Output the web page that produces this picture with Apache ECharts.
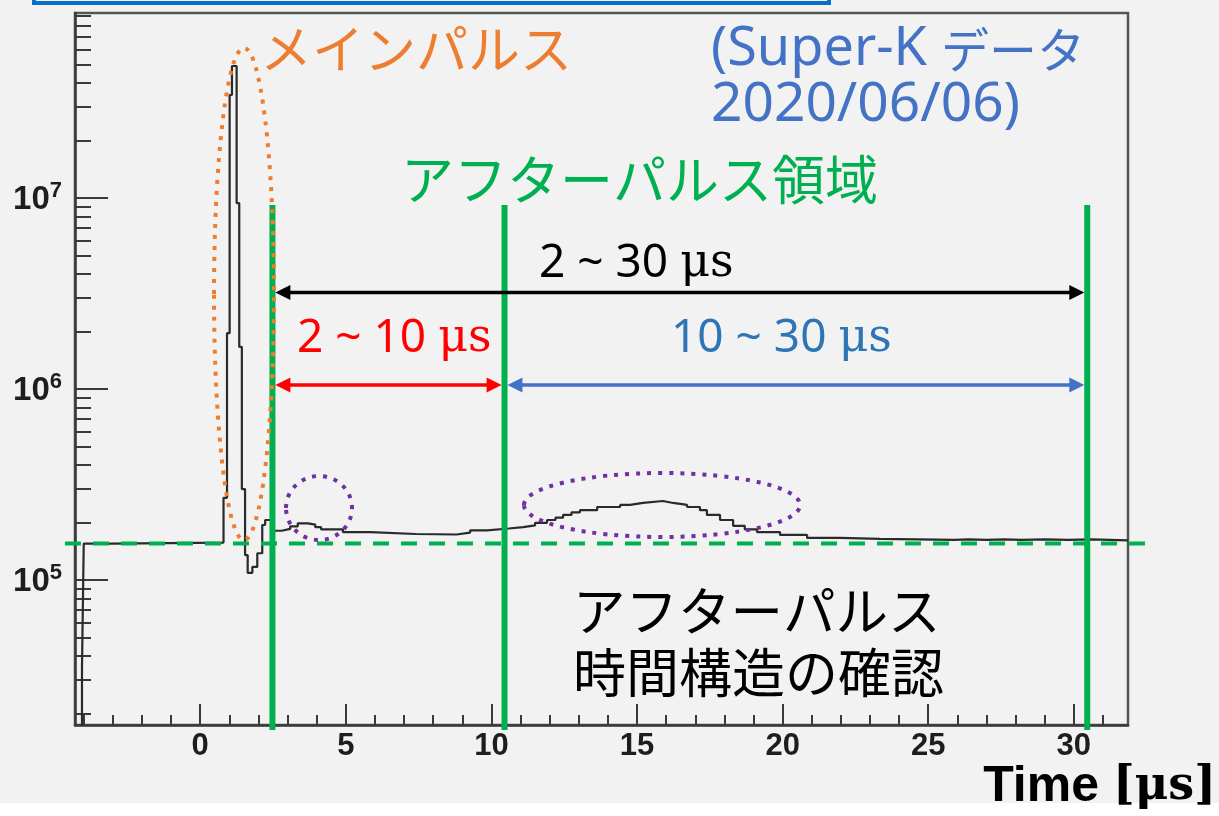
<!DOCTYPE html>
<html><head><meta charset="utf-8">
<script src="https://cdn.jsdelivr.net/npm/echarts@6/dist/echarts.min.js"></script>
<style>html,body{margin:0;padding:0;background:#f2f2f2;}#c{width:1219px;height:816px;}</style>
</head><body><div id="c"></div>
<script>
// ---- data ----
const binStart = [-4.30,-4.06,-4.00,-3.00,0.80,0.92,1.01,1.09,1.25,1.34,1.43,1.54,1.63,1.79,1.96,2.13,2.23,2.50,2.80,3.09,3.35,3.70,3.95,4.15,4.90,5.85,7.40,8.80,9.27,9.85,10.60,11.09,11.50,11.91,12.20,12.46,12.75,13.04,13.63,14.42,14.76,15.21,15.89,16.24,16.72,17.16,17.40,17.85,18.30,18.70,19.12,19.91,20.84,21.97,23.34,25.90,26.40,27.00,27.60,28.20,29.00,29.80,30.60];
const binValue = [1.2e4,3.5e4,1.55e5,1.57e5,2.69e5,1.96e6,3.46e7,4.91e7,9.4e6,1.66e6,2.99e5,1.35e5,1.09e5,1.17e5,1.38e5,1.94e5,2.06e5,1.81e5,1.85e5,1.91e5,1.98e5,1.95e5,1.89e5,1.84e5,1.78e5,1.74e5,1.73e5,1.77e5,1.82e5,1.86e5,1.89e5,1.93e5,1.99e5,2.06e5,2.12e5,2.19e5,2.26e5,2.32e5,2.41e5,2.47e5,2.53e5,2.59e5,2.53e5,2.47e5,2.41e5,2.32e5,2.19e5,2.06e5,1.92e5,1.84e5,1.78e5,1.72e5,1.66e5,1.64e5,1.62e5,1.63e5,1.62e5,1.63e5,1.62e5,1.63e5,1.62e5,1.63e5,1.61e5];
const histEnd = 31.86;
const xRange = [-4.3, 31.86];
const yRange = [1.74e4, 9.3e7];
const xMajorTicks = [0,5,10,15,20,25,30];
const xMinorTicks = [-4,-3,-2,-1,1,2,3,4,6,7,8,9,11,12,13,14,16,17,18,19,21,22,23,24,26,27,28,29,31];
const yMajorTicks = [1e5,1e6,1e7];
const yMinorTicks = [2e4,3e4,4e4,5e4,6e4,7e4,8e4,9e4,2e5,3e5,4e5,5e5,6e5,7e5,8e5,9e5,2e6,3e6,4e6,5e6,6e6,7e6,8e6,9e6,2e7,3e7,4e7,5e7,6e7,7e7,8e7,9e7];
const regionEdges = [2.48, 10.45, 30.46];   // μs
const regionTopValue = 9.2e6;
const baselineValue = 1.55e5;
const arrowFullLevel = 3.2e6;
const arrowSubLevel = 1.05e6;

// ---- chart ----
const chart = echarts.init(document.getElementById('c'), null, {width:1219, height:816});
const histData = binStart.map((t,i)=>[t, binValue[i]]);
histData.push([histEnd, binValue[binValue.length-1]]);

const AX = '#3a3a3a';
const labelFont = {fontFamily:'Liberation Sans', fontWeight:'bold', color:'#1e1e1e'};

chart.setOption({
  backgroundColor:'#f2f2f2',
  animation:false,
  grid:{left:75, top:13, right:91, bottom:91, show:true, borderColor:'#555', borderWidth:2.5, backgroundColor:'#f2f2f2'},
  xAxis:[{
    type:'value', min:xRange[0], max:xRange[1], splitNumber:7,
    splitLine:{show:false},
    axisLine:{show:true, onZero:false, lineStyle:{color:AX, width:2.5}},
    axisTick:{show:true, inside:true, length:21, customValues:xMajorTicks, lineStyle:{color:AX, width:2}},
    axisLabel:{show:true, customValues:xMajorTicks, margin:6, fontSize:31, ...labelFont}
  },{
    type:'value', min:xRange[0], max:xRange[1], position:'bottom',
    splitLine:{show:false}, axisLine:{show:false, onZero:false}, axisLabel:{show:false},
    axisTick:{show:true, inside:true, length:10, customValues:xMinorTicks, lineStyle:{color:AX, width:2}}
  }],
  yAxis:[{
    type:'log', logBase:10, min:yRange[0], max:yRange[1],
    splitLine:{show:false},
    axisLine:{show:true, onZero:false, lineStyle:{color:AX, width:2.5}},
    axisTick:{show:true, inside:true, length:33, customValues:yMajorTicks, lineStyle:{color:AX, width:2}},
    axisLabel:{show:true, customValues:yMajorTicks, margin:13,
      formatter:v=>'{b|10}{s|'+Math.round(Math.log10(v))+'}',
      rich:{
        b:{fontSize:33, lineHeight:36, verticalAlign:'bottom', ...labelFont},
        s:{fontSize:22, lineHeight:30, verticalAlign:'top', ...labelFont}
      }}
  },{
    type:'log', logBase:10, min:yRange[0], max:yRange[1], position:'left',
    splitLine:{show:false}, axisLine:{show:false, onZero:false}, axisLabel:{show:false},
    axisTick:{show:true, inside:true, length:16, customValues:yMinorTicks, lineStyle:{color:AX, width:2}}
  }],
  series:[{
    type:'line', xAxisIndex:0, yAxisIndex:0, step:'end', showSymbol:false, symbol:'none',
    data:histData, clip:true,
    lineStyle:{color:'#2a2a2a', width:2.2}
  }]
});

// ---- annotations (placed through the chart's own scales) ----
const P = (x,y)=>chart.convertToPixel({xAxisIndex:0, yAxisIndex:0},[x,y]);
const gridBottom = P(xRange[0], yRange[0])[1];
const gridRight = P(xRange[1], yRange[0])[0];
const gridLeft = P(xRange[0], yRange[0])[0];
const G = [];
G.push({type:'rect', z:-10, shape:{x:0,y:803,width:1219,height:13}, style:{fill:'#ffffff'}});
G.push({type:'rect', z:50, shape:{x:34,y:-60,width:795,height:63}, style:{fill:'none', stroke:'#0a6fc9', lineWidth:4}});
const yb = P(0, baselineValue)[1];
G.push({type:'line', z:40, shape:{x1:gridLeft-10, y1:yb, x2:gridRight+17, y2:yb}, style:{stroke:'#00b050', lineWidth:4, lineDash:[16,12]}});
regionEdges.forEach(t=>{
  const top = P(t, regionTopValue);
  G.push({type:'line', z:41, shape:{x1:top[0], y1:top[1], x2:top[0], y2:gridBottom+5}, style:{stroke:'#00b050', lineWidth:6}});
});
function arrow(t1,t2,v,color){
  const a = P(t1,v), b = P(t2,v);
  const L=15, W=7.5;
  G.push({type:'line', z:42, shape:{x1:a[0]+L-2, y1:a[1], x2:b[0]-L+2, y2:b[1]}, style:{stroke:color, lineWidth:3.5}});
  G.push({type:'polygon', z:42, shape:{points:[[a[0],a[1]],[a[0]+L,a[1]-W],[a[0]+L,a[1]+W]]}, style:{fill:color}});
  G.push({type:'polygon', z:42, shape:{points:[[b[0],b[1]],[b[0]-L,b[1]-W],[b[0]-L,b[1]+W]]}, style:{fill:color}});
}
arrow(regionEdges[0]+0.1, regionEdges[2]-0.1, arrowFullLevel, '#000000');
arrow(regionEdges[0]+0.1, regionEdges[1]-0.1, arrowSubLevel, '#ff0000');
arrow(regionEdges[1]+0.1, regionEdges[2]-0.1, arrowSubLevel, '#4472c4');
G.push({type:'ellipse', z:45, shape:{cx:244, cy:294, rx:30, ry:246}, style:{fill:'none', stroke:'#ed7d31', lineWidth:4, lineDash:[4,7]}});
G.push({type:'ellipse', z:45, shape:{cx:319, cy:508, rx:33, ry:32}, style:{fill:'none', stroke:'#7030a0', lineWidth:4, lineDash:[4,7]}});
G.push({type:'ellipse', z:45, shape:{cx:662, cy:505, rx:138, ry:32}, style:{fill:'none', stroke:'#7030a0', lineWidth:4, lineDash:[4,7]}});
const JP = "'Noto Sans CJK JP'";
function txt(s, x, y, size, color, align, extra){
  G.push({type:'text', z:60, style:Object.assign({text:s, x:x, y:y, font:'normal '+size+'px '+JP, fill:color, align:align||'left', verticalAlign:'middle'}, extra||{})});
}
txt('メインパルス', 260, 49, 52, '#ed7d31');
// blue note: Latin in Noto Sans, kana in CJK font
G.push({type:'text', z:60, style:{text:'(Super-K {k|データ}', x:711, y:50, font:"normal 54px 'Noto Sans'", fill:'#4472c4', align:'left', verticalAlign:'middle',
  rich:{k:{fontFamily:'Noto Sans CJK JP', fontSize:48, fill:'#4472c4'}}}});
G.push({type:'text', z:60, style:{text:'2020/06/06)', x:711, y:105, font:"normal 55px 'Noto Sans'", fill:'#4472c4', align:'left', verticalAlign:'middle'}});
txt('アフターパルス領域', 401, 180, 53, '#00b050');
function rng(s, x, y, color){
  G.push({type:'text', z:60, style:{text:s, x:x, y:y, font:"normal 46px 'Noto Sans'", fill:color, align:'left', verticalAlign:'middle',
    rich:{m:{fontFamily:'DejaVu Serif', fontSize:46, fill:color}}}});
}
rng('2 ~ 30 {m|μs}', 539, 264, '#000000');
rng('2 ~ 10 {m|μs}', 297, 339, '#ff0000');
rng('10 ~ 30 {m|μs}', 671, 339, '#2e75b6');
txt('アフターパルス', 573, 611, 52.5, '#000000');
txt('時間構造の確認', 573, 673, 53, '#000000');
G.push({type:'text', z:60, style:{text:'Time {m|[μs]}', x:1216, y:787, font:'bold 50px Liberation Sans', fill:'#000', align:'right', verticalAlign:'middle',
  rich:{m:{fontFamily:'DejaVu Serif', fontWeight:'bold', fontSize:46, fill:'#000'}}}});
chart.setOption({graphic:{elements:G}});
</script></body></html>
